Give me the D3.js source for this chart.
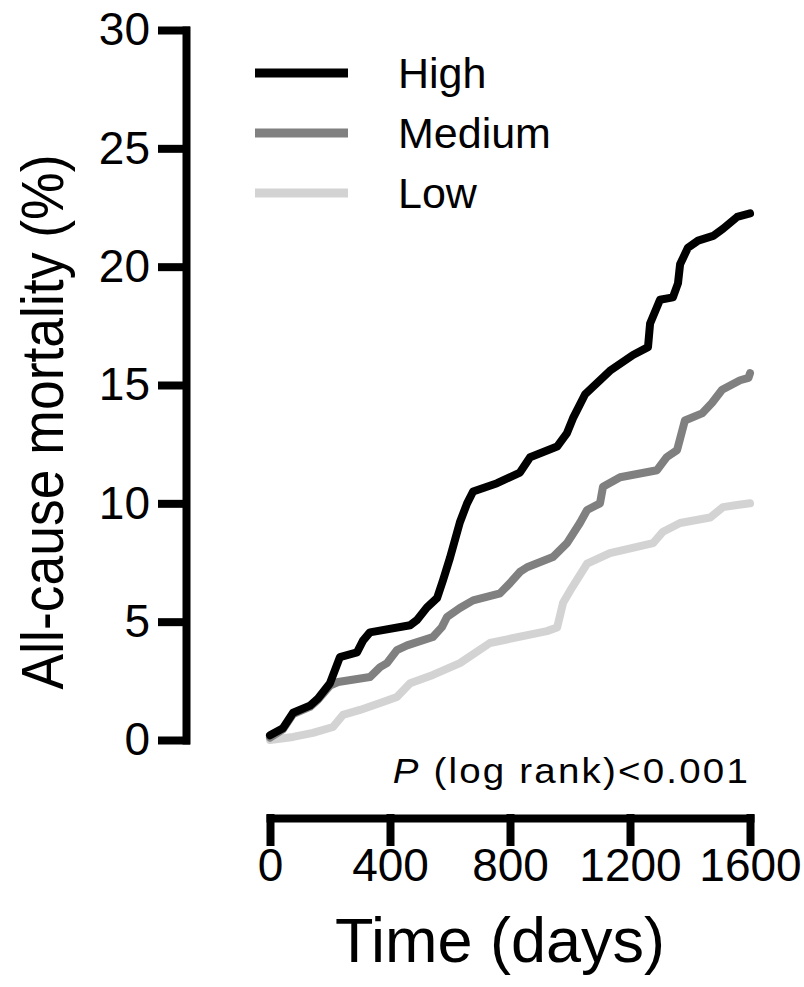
<!DOCTYPE html>
<head>
	<script src="https://d3js.org/d3.v7.min.js"></script>
	<style>
		body { margin: 0; background: #fff; }
		text { font-family: "Liberation Sans", Arial, sans-serif; fill: #000; }
		.axis path, .axis line { stroke: #000; stroke-width: 8; stroke-linecap: square; }
		.axis text { font-size: 46px; }
		.legend { font-size: 43px; }
		.curve { fill: none; stroke-width: 8; stroke-linejoin: round; stroke-linecap: round; }
	</style>
</head>
<body>
	<script>
		// data: [day, mortality %]
		var groups = ["High", "Medium", "Low"];
		var colors = ["#000000", "#808080", "#d3d3d3"];

		var highCurve = [[0,0.2],[43,0.5],[77,1.15],[133,1.45],[160,1.75],[200,2.4],[233,3.5],[290,3.7],[310,4.2],[333,4.55],
			[467,4.85],[490,5.07],[523,5.6],[557,6.0],[577,6.76],[600,7.7],[633,9.2],[657,10.0],[677,10.5],[757,10.85],
			[833,11.3],[867,11.95],[957,12.4],[990,12.97],[1010,13.6],[1050,14.6],[1133,15.6],[1210,16.27],[1260,16.6],
			[1267,17.6],[1300,18.6],[1343,18.7],[1360,19.3],[1367,20.1],[1393,20.8],[1427,21.1],[1477,21.3],[1510,21.6],
			[1557,22.1],[1600,22.25]];
		var mediumCurve = [[0,0.1],[43,0.45],[77,1.1],[133,1.4],[160,1.7],[200,2.3],[227,2.45],[333,2.66],[367,3.08],
			[390,3.25],[423,3.8],[457,4.0],[543,4.35],[573,4.77],[590,5.2],[633,5.58],[677,5.9],[767,6.2],[800,6.63],
			[833,7.1],[857,7.3],[943,7.73],[990,8.32],[1033,9.17],[1057,9.72],[1100,10.0],[1110,10.7],[1167,11.1],
			[1290,11.4],[1323,11.96],[1357,12.25],[1383,13.5],[1440,13.8],[1473,14.24],[1507,14.8],[1567,15.2],
			[1595,15.3],[1600,15.5]];
		var lowCurve = [[0,0],[77,0.13],[143,0.3],[210,0.55],[243,1.06],[300,1.27],[367,1.56],[423,1.82],[467,2.4],
			[543,2.75],[633,3.25],[733,4.1],[923,4.6],[957,4.75],[977,5.8],[1000,6.3],[1057,7.45],[1133,7.9],
			[1277,8.32],[1310,8.8],[1367,9.17],[1467,9.4],[1510,9.84],[1557,9.93],[1600,10.0]];

		var xTicks = [0, 400, 800, 1200, 1600];
		var yTicks = [0, 5, 10, 15, 20, 25, 30];

		var width = 804;
		var height = 987;

		var svg = d3.select("body")
			.append("svg")
			.attr("width", width)
			.attr("height", height);

		// scales
		var xScale = d3.scaleLinear()
			.domain([0, 1600])
			.range([270, 750]);
		var yScale = d3.scaleLinear()
			.domain([0, 30])
			.range([740, 30]);

		// curves, light ones first so black sits on top
		var line = d3.line()
			.x(function(d) { return xScale(d[0]) })
			.y(function(d) { return yScale(d[1]) });

		var curves = [highCurve, mediumCurve, lowCurve];
		[2, 1, 0].forEach(function(i) {
			svg.append("path")
				.datum(curves[i])
				.attr("class", "curve")
				.attr("stroke", colors[i])
				.attr("d", line);
		});

		// y axis
		var axisY = svg.append("g")
			.attr("class", "axis")
			.attr("transform", "translate(" + [186, 0] + ")")
			.call(d3.axisLeft(yScale).tickValues(yTicks).tickSize(24).tickSizeOuter(0).tickPadding(12));

		// x axis
		var axisX = svg.append("g")
			.attr("class", "axis")
			.attr("transform", "translate(" + [0, 818] + ")")
			.call(d3.axisBottom(xScale).tickValues(xTicks).tickFormat(d3.format("d"))
				.tickSize(24).tickSizeOuter(0).tickPadding(6));

		// titles
		svg.append("text")
			.attr("transform", "translate(" + [63, 422] + ") rotate(-90) scale(1,1.1)")
			.attr("text-anchor", "middle")
			.style("font-size", "53.5px")
			.text("All-cause mortality (%)");
		svg.append("text")
			.attr("x", 500)
			.attr("y", 962)
			.attr("text-anchor", "middle")
			.style("font-size", "63px")
			.text("Time (days)");

		// p value
		var pText = svg.append("text")
			.attr("transform", "translate(" + [750, 783] + ") scale(1.1,1)")
			.attr("text-anchor", "end")
			.style("font-size", "35px")
			.style("letter-spacing", "2px");
		pText.append("tspan").style("font-style", "italic").text("P");
		pText.append("tspan").text(" (log rank)<0.001");

		// legend
		var legend = svg.selectAll(".leg")
			.data(groups)
			.enter()
			.append("g")
			.attr("transform", function(d, i) { return "translate(" + [255, 73 + i * 60] + ")" });
		legend.append("line")
			.attr("x1", 0)
			.attr("x2", 93)
			.attr("stroke", function(d, i) { return colors[i] })
			.attr("stroke-width", 9);
		legend.append("text")
			.attr("class", "legend")
			.attr("x", 143)
			.attr("y", 15)
			.text(function(d) { return d });
	</script>
</body>
</html>
